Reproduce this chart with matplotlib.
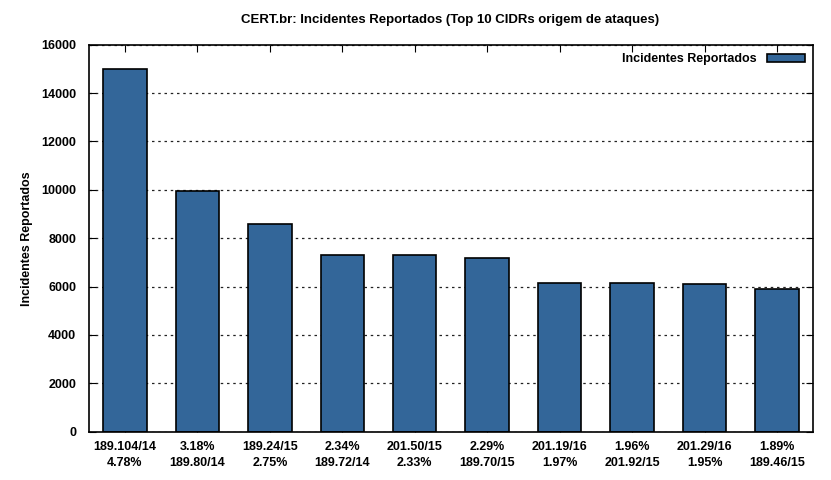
import matplotlib
matplotlib.use("Agg")
import matplotlib.pyplot as plt

# dados do gráfico
cidrs = ["189.104/14", "189.80/14", "189.24/15", "189.72/14", "201.50/15",
         "189.70/15", "201.19/16", "201.92/15", "201.29/16", "189.46/15"]
percents = ["4.78%", "3.18%", "2.75%", "2.34%", "2.33%",
            "2.29%", "1.97%", "1.96%", "1.95%", "1.89%"]
incidentes = [14980, 9960, 8600, 7310, 7310, 7190, 6160, 6160, 6120, 5910]

plt.rcParams["font.family"] = ["Liberation Sans", "DejaVu Sans"]
plt.rcParams["font.weight"] = "bold"

fig = plt.figure(figsize=(8.31, 4.8), dpi=100)
ax = fig.add_axes([0.1067, 0.1006, 0.872, 0.8063])

x = list(range(len(incidentes)))
ax.bar(x, incidentes, width=0.6, color="#336699", edgecolor="black",
       linewidth=1.2, label="Incidentes Reportados", zorder=3)

# rótulos alternados: cidr/percentual e percentual/cidr
labels = []
for i in range(len(cidrs)):
    if i % 2 == 0:
        labels.append(cidrs[i] + "\n" + percents[i])
    else:
        labels.append(percents[i] + "\n" + cidrs[i])

ax.set_xlim(-0.5, 9.5)
ax.set_ylim(0, 16000)
ax.set_xticks(x)
ax.set_xticklabels(labels, fontsize=9, fontweight="bold", linespacing=1.45)
ax.set_yticks(range(0, 16001, 2000))
ax.tick_params(axis="y", labelsize=9, direction="in", right=True, length=5, pad=9)
ax.tick_params(axis="x", direction="in", top=True, length=5, pad=7)

ax.yaxis.grid(True, linestyle=(0, (2, 3)), color="#222222", linewidth=0.9, zorder=0)
for s in ax.spines.values():
    s.set_linewidth(1.2)
    s.set_zorder(4)

ax.set_ylabel("Incidentes Reportados", fontsize=9, fontweight="bold", labelpad=6)
# título centrado sobre a área do gráfico
fig.text(0.542, 0.958,
         "CERT.br: Incidentes Reportados (Top 10 CIDRs origem de ataques)",
         fontsize=9.5, fontweight="bold", ha="center", va="center",
         family=["Liberation Sans Narrow", "Liberation Sans"])

leg = ax.legend(loc="upper right", frameon=False, markerfirst=False,
                fontsize=9, handlelength=3.0, handleheight=0.5,
                borderaxespad=0.3, handletextpad=0.8)

fig.savefig("out.png", dpi=100)
